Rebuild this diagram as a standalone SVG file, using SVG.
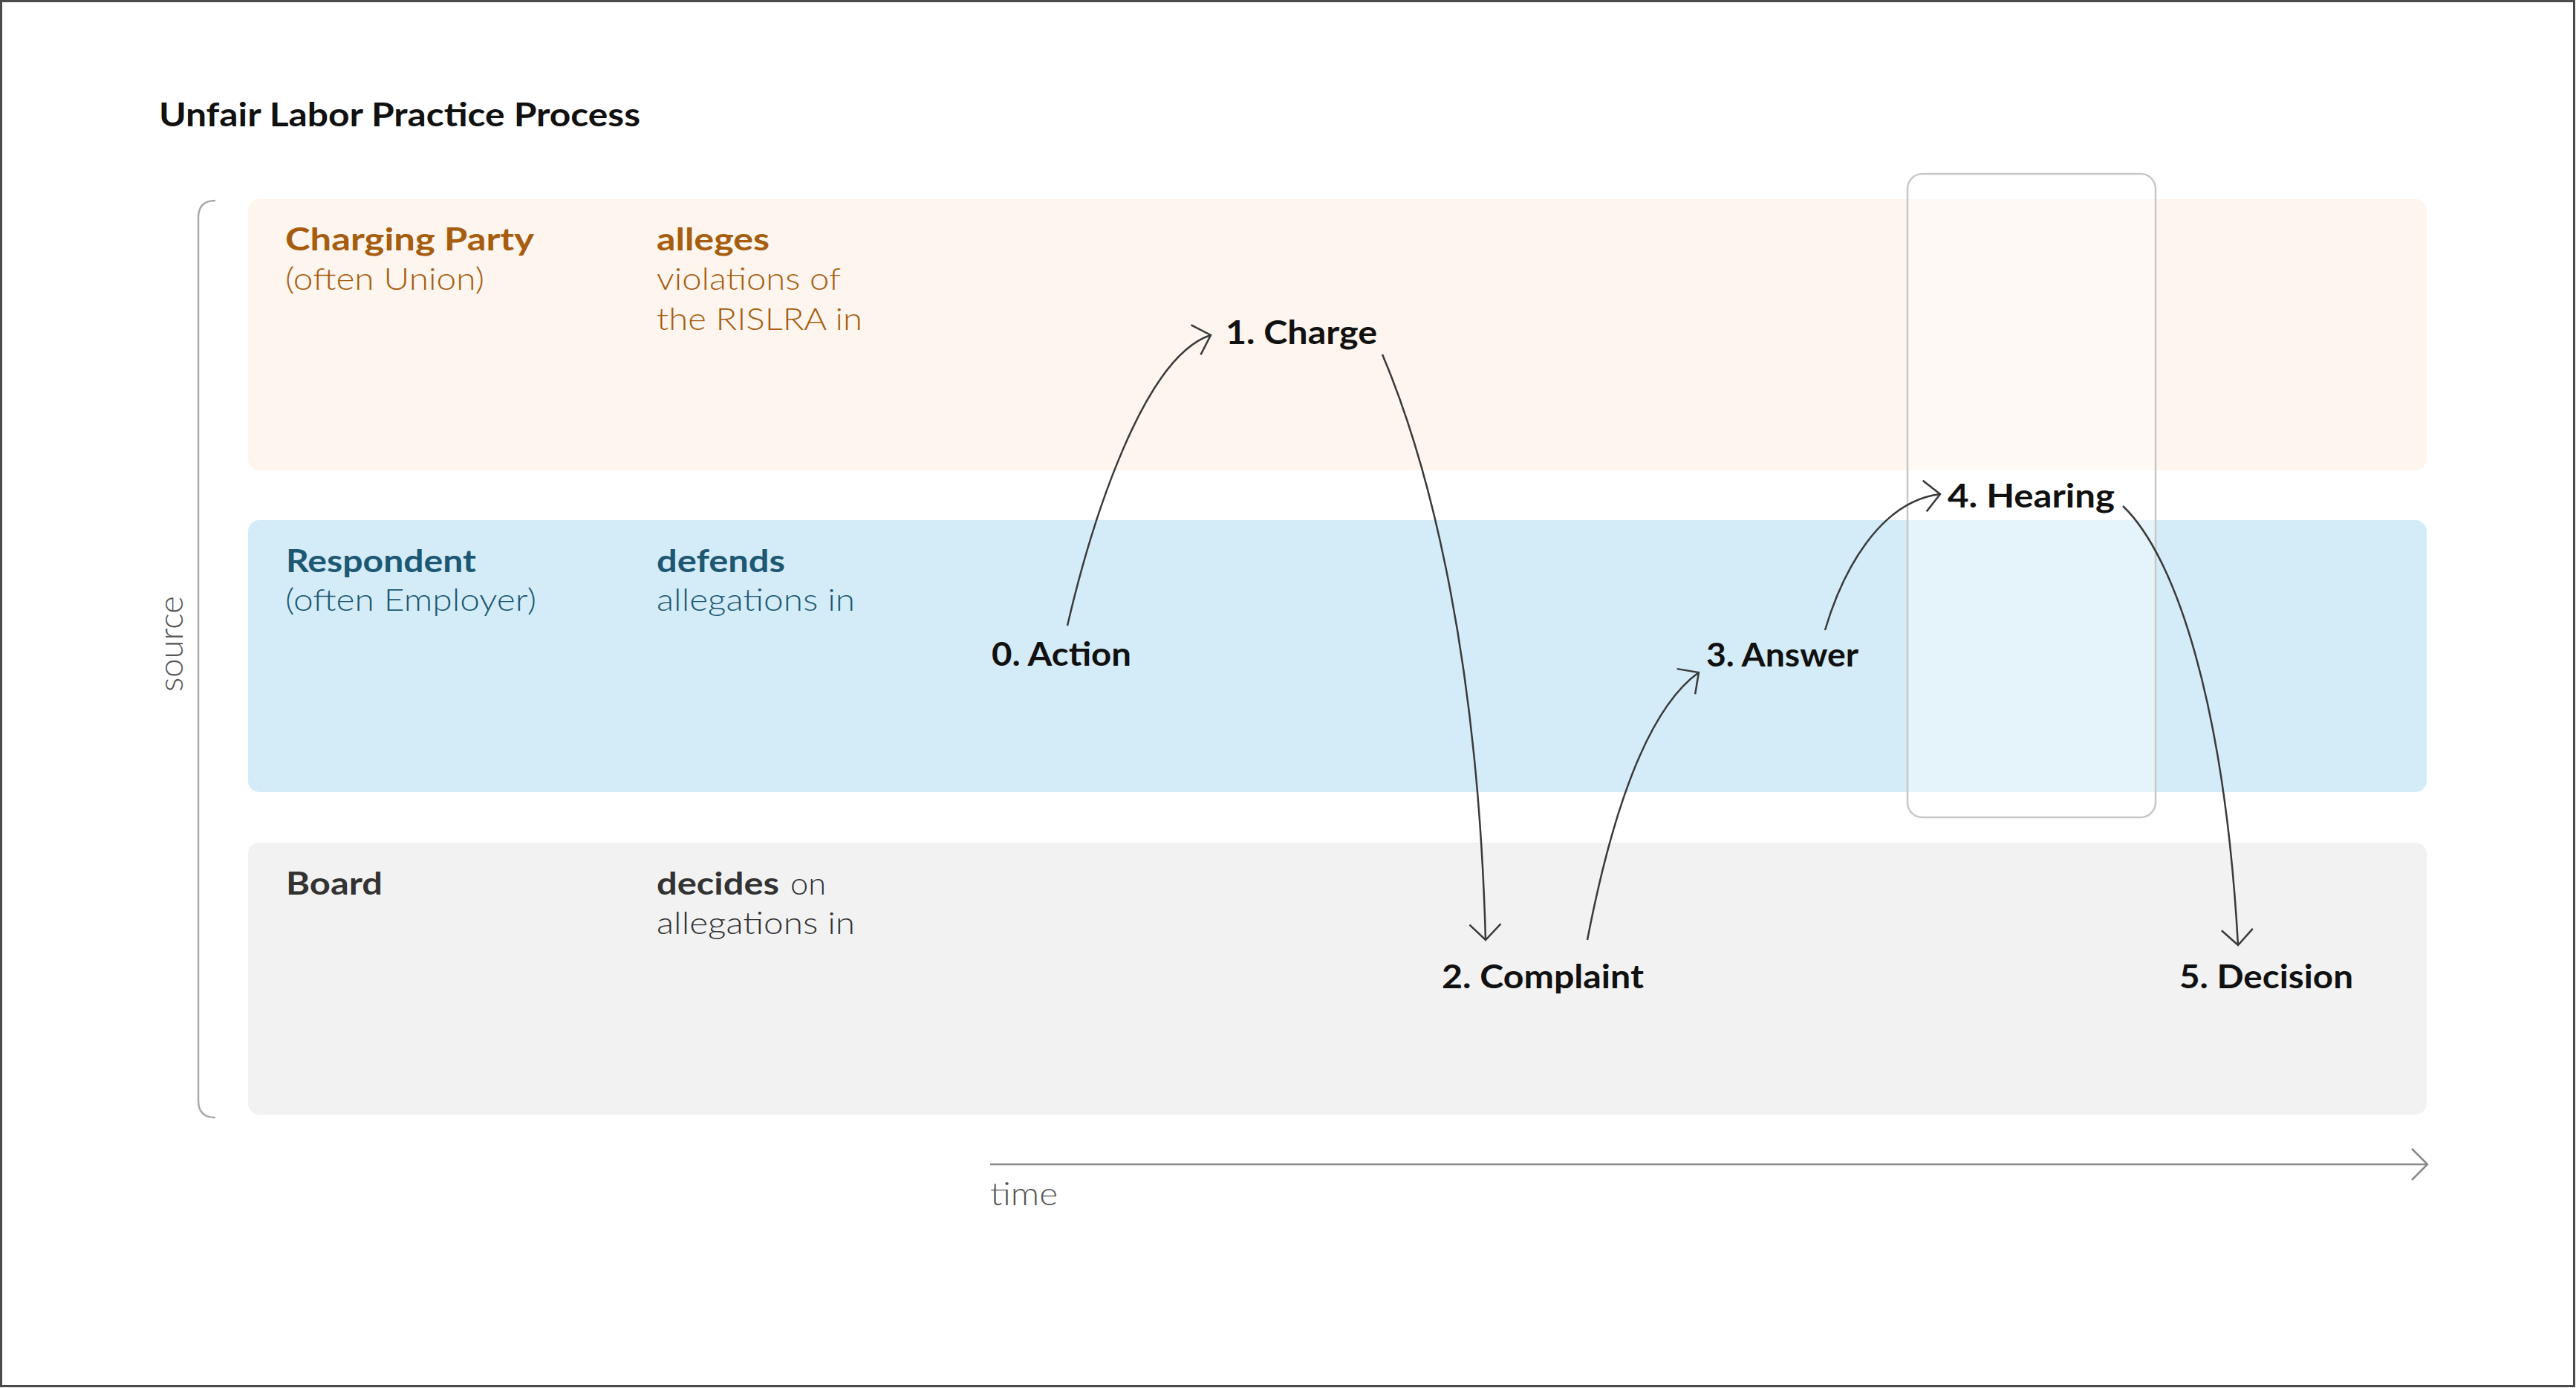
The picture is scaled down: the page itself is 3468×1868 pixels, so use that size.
<svg xmlns="http://www.w3.org/2000/svg" width="3468" height="1868" viewBox="0 0 3468 1868">
<style>
text{font-family:Lato,"Noto Sans","Liberation Sans",sans-serif}
.b{font-weight:700}
.l{font-weight:300}
.lab{font-size:42px}
.node{font-size:44px;font-weight:700;fill:#111}
.or{fill:#A65D0F}
.bl{fill:#1D5873}
.gr{fill:#333}
.conn{fill:none;stroke:#3a3a3a;stroke-width:2.5}
</style>
<defs>
<marker id="chev" markerUnits="userSpaceOnUse" viewBox="-30 -30 40 60" refX="0" refY="0" markerWidth="40" markerHeight="60" orient="auto" overflow="visible">
<path d="M-21,-21 L0,0 L-21,21" fill="none" stroke="#3a3a3a" stroke-width="2.5"/>
</marker>
<marker id="chevg" markerUnits="userSpaceOnUse" viewBox="-30 -30 40 60" refX="0" refY="0" markerWidth="40" markerHeight="60" orient="auto" overflow="visible">
<path d="M-21,-21 L0,0 L-21,21" fill="none" stroke="#888" stroke-width="2.5"/>
</marker>
</defs>
<rect x="0" y="0" width="3468" height="1868" fill="#fff"/>
<rect x="1.5" y="1.5" width="3464" height="1864" fill="none" stroke="#4a4a4a" stroke-width="3"/>
<text x="214" y="170" class="b" font-size="44" fill="#111" textLength="648" lengthAdjust="spacingAndGlyphs">Unfair Labor Practice Process</text>

<g id="lane-charging">
<rect x="334" y="268" width="2933" height="365" rx="15" fill="#FDF5EE"/>
<text x="384" y="337" class="lab b or" textLength="335" lengthAdjust="spacingAndGlyphs">Charging Party</text>
<text x="384" y="390" class="lab l or" textLength="268" lengthAdjust="spacingAndGlyphs">(often Union)</text>
<text x="884" y="337" class="lab b or" textLength="152" lengthAdjust="spacingAndGlyphs">alleges</text>
<text x="884" y="390" class="lab l or" textLength="248" lengthAdjust="spacingAndGlyphs">violations of</text>
<text x="884" y="444" class="lab l or" textLength="277" lengthAdjust="spacingAndGlyphs">the RISLRA in</text>
</g>
<g id="lane-respondent">
<rect x="334" y="700" width="2933" height="366" rx="15" fill="#D4ECF7"/>
<text x="385" y="770" class="lab b bl" textLength="256" lengthAdjust="spacingAndGlyphs">Respondent</text>
<text x="384" y="822" class="lab l bl" textLength="338" lengthAdjust="spacingAndGlyphs">(often Employer)</text>
<text x="884" y="770" class="lab b bl" textLength="173" lengthAdjust="spacingAndGlyphs">defends</text>
<text x="884" y="822" class="lab l bl" textLength="267" lengthAdjust="spacingAndGlyphs">allegations in</text>
</g>
<g id="lane-board">
<rect x="334" y="1134" width="2933" height="366" rx="15" fill="#F2F2F2"/>
<text x="385" y="1204" class="lab b gr" textLength="130" lengthAdjust="spacingAndGlyphs">Board</text>
<text x="884" y="1204" class="lab b gr" textLength="165" lengthAdjust="spacingAndGlyphs">decides</text>
<text x="1064" y="1204" class="lab l gr" textLength="48" lengthAdjust="spacingAndGlyphs">on</text>
<text x="884" y="1257" class="lab l gr" textLength="267" lengthAdjust="spacingAndGlyphs">allegations in</text>
</g>

<g id="axis-source">
<path d="M290,270 L290,270 Q267,270 267,293 L267,1481 Q267,1504 290,1504" fill="none" stroke="#aaa" stroke-width="2.5"/>
<text transform="translate(246,931) rotate(-90)" x="0" y="0" font-size="46" class="l" fill="#555" textLength="129" lengthAdjust="spacingAndGlyphs">source</text>
</g>
<g id="axis-time">
<path d="M1333,1567 L3268,1567" fill="none" stroke="#888" stroke-width="2.5" marker-end="url(#chevg)"/>
<text x="1333" y="1622" font-size="44" class="l" fill="#555" textLength="91" lengthAdjust="spacingAndGlyphs">time</text>
</g>

<g id="hearing-box">
<rect x="2568" y="234" width="334" height="866" rx="20" fill="#fff" fill-opacity="0.4" stroke="#c8c8c8" stroke-width="2.5"/>
</g>

<g id="connectors">
<path class="conn" d="M1437,842 C1470,700 1540,480 1630,451" marker-end="url(#chev)"/>
<path class="conn" d="M1861,477 C1930,640 1990,900 2000,1265" marker-end="url(#chev)"/>
<path class="conn" d="M2137,1265 C2165,1120 2210,960 2287,905" marker-end="url(#chev)"/>
<path class="conn" d="M2457,848 C2480,770 2530,675 2612,665" marker-end="url(#chev)"/>
<path class="conn" d="M2858,681 C2930,750 2995,950 3013,1272" marker-end="url(#chev)"/>
</g>

<g id="node-0"><text x="1335" y="896" class="node" textLength="188" lengthAdjust="spacingAndGlyphs">0. Action</text></g>
<g id="node-1"><text x="1650" y="463" class="node" textLength="204" lengthAdjust="spacingAndGlyphs">1. Charge</text></g>
<g id="node-2"><text x="1941" y="1330" class="node" textLength="272" lengthAdjust="spacingAndGlyphs">2. Complaint</text></g>
<g id="node-3"><text x="2297" y="897" class="node" textLength="205" lengthAdjust="spacingAndGlyphs">3. Answer</text></g>
<g id="node-4"><text x="2622" y="683" class="node" textLength="225" lengthAdjust="spacingAndGlyphs">4. Hearing</text></g>
<g id="node-5"><text x="2934" y="1330" class="node" textLength="234" lengthAdjust="spacingAndGlyphs">5. Decision</text></g>
</svg>
